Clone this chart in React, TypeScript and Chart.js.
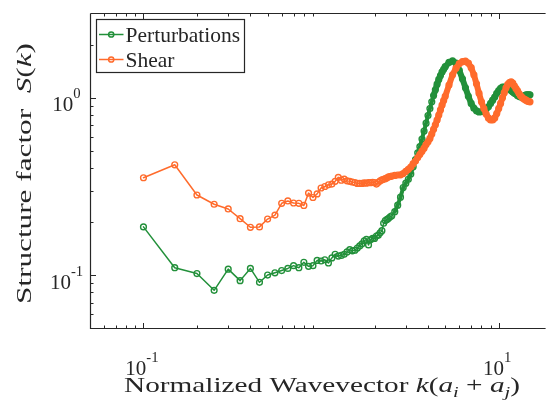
import React, { useEffect, useRef } from 'react';
import { Chart, registerables } from 'chart.js';

Chart.register(...registerables);

// ---------------- data ----------------
const SERIES_NAMES = ['Perturbations', 'Shear'];

const wavevector = [
  0.10, 0.15, 0.20, 0.25, 0.30, 0.35, 0.40, 0.45, 0.50, 0.55, 0.60, 0.65, 0.70, 0.75, 0.80, 0.85, 0.90, 0.95,
  1.00, 1.05, 1.10, 1.15, 1.20, 1.25, 1.30, 1.35, 1.40, 1.45, 1.50, 1.55, 1.60, 1.65, 1.70, 1.75, 1.80, 1.85,
  1.90, 1.95, 2.00, 2.05, 2.10, 2.15, 2.20, 2.25, 2.30, 2.35, 2.40, 2.45, 2.50,
  2.6, 2.7, 2.8, 2.9, 3.0, 3.1, 3.2, 3.3, 3.4, 3.5, 3.6, 3.7, 3.8, 3.9, 4.0, 4.1, 4.2, 4.3, 4.4, 4.5, 4.6, 4.7,
  4.8, 4.9, 5.0,
  5.25, 5.5, 5.75, 6.0, 6.25, 6.5, 6.75, 7.0, 7.25, 7.5, 7.75, 8.0, 8.25, 8.5, 8.75, 9.0, 9.25, 9.5, 9.75, 10.0,
  10.25, 10.5, 10.75, 11.0, 11.25, 11.5, 11.75, 12.0, 12.25, 12.5, 12.75, 13.0, 13.25, 13.5, 13.75, 14.0, 14.25,
  14.5, 14.75, 15.0,
];

const perturbations = [
  0.187, 0.110, 0.102, 0.082, 0.108, 0.093, 0.109, 0.091, 0.100, 0.103, 0.106, 0.109, 0.113, 0.110, 0.118, 0.112,
  0.113, 0.121, 0.120, 0.122, 0.117, 0.125, 0.131, 0.128, 0.129, 0.131, 0.135, 0.139, 0.137, 0.138, 0.142, 0.146,
  0.150, 0.156, 0.159, 0.148, 0.158, 0.161, 0.161, 0.166, 0.168, 0.173, 0.178, 0.196, 0.203, 0.206, 0.209, 0.213,
  0.216,
  0.228, 0.248, 0.275, 0.312, 0.330, 0.347, 0.372, 0.408, 0.448, 0.49, 0.53, 0.585, 0.65, 0.72, 0.795, 0.87, 0.95,
  1.03, 1.11, 1.195, 1.27, 1.335, 1.40, 1.45, 1.50,
  1.585, 1.615, 1.57, 1.43, 1.28, 1.14, 1.02, 0.93, 0.875, 0.845, 0.832, 0.835, 0.845, 0.865, 0.89, 0.93, 0.97,
  1.01, 1.06, 1.10, 1.13, 1.15, 1.15, 1.14, 1.13, 1.12, 1.10, 1.08, 1.06, 1.05, 1.03, 1.02, 1.01, 1.01, 1.02,
  1.03, 1.04, 1.04, 1.04, 1.04,
];

const shear = [
  0.354, 0.419, 0.283, 0.251, 0.236, 0.208, 0.186, 0.187, 0.207, 0.218, 0.254, 0.262, 0.255, 0.254, 0.247, 0.290,
  0.274, 0.287, 0.310, 0.316, 0.323, 0.326, 0.338, 0.356, 0.343, 0.348, 0.340, 0.338, 0.335, 0.333, 0.329, 0.329,
  0.329, 0.331, 0.330, 0.333, 0.332, 0.334, 0.333, 0.326, 0.334, 0.340, 0.344, 0.347, 0.350, 0.354, 0.358, 0.360,
  0.362,
  0.365, 0.367, 0.368, 0.374, 0.385, 0.395, 0.407, 0.425, 0.44, 0.46, 0.48, 0.50, 0.52, 0.545, 0.565, 0.59, 0.625,
  0.665, 0.705, 0.75, 0.80, 0.855, 0.91, 0.965, 1.02,
  1.18, 1.35, 1.47, 1.56, 1.60, 1.61, 1.57, 1.48, 1.35, 1.20, 1.06, 0.95, 0.87, 0.81, 0.77, 0.75, 0.75, 0.77,
  0.815, 0.87, 0.93, 1.00, 1.07, 1.14, 1.19, 1.22, 1.23, 1.21, 1.17, 1.13, 1.10, 1.06, 1.03, 1.01, 0.99, 0.98,
  0.97, 0.96, 0.955, 0.95,
];

const X_RANGE = [0.05, 17.9];
const Y_RANGE = [0.05, 3];
const X_MAJOR_TICKS = [0.1, 10];
const X_TICK_EXPONENTS = ['-1', '1'];
const Y_MAJOR_TICKS = [0.1, 1];
const Y_TICK_EXPONENTS = ['-1', '0'];

// ---------------- style ----------------
const GREEN = '#22903a';
const ORANGE = '#ff6b2c';
const AXIS = '#262626';
const TEXT = '#262626';
const SERIF = '"Liberation Serif", "Times New Roman", serif';

type Seg = { t: string; it?: boolean; sub?: boolean; sup?: boolean };

const X_TITLE: Seg[] = [
  { t: 'Normalized Wavevector ' },
  { t: 'k', it: true },
  { t: '(' },
  { t: 'a', it: true },
  { t: 'i', it: true, sub: true },
  { t: ' + ' },
  { t: 'a', it: true },
  { t: 'j', it: true, sub: true },
  { t: ')' },
];
const Y_TITLE: Seg[] = [
  { t: 'Structure factor  ' },
  { t: 'S', it: true },
  { t: '(' },
  { t: 'k', it: true },
  { t: ')' },
];

function drawRich(
  ctx: CanvasRenderingContext2D,
  segs: Seg[],
  x: number,
  y: number,
  size: number,
  align: 'left' | 'center' | 'right',
  stretchTo?: number,
  supShift = 0.62,
) {
  const fonts = segs.map(
    (s) => `${s.it ? 'italic ' : ''}${s.sub || s.sup ? size * 0.7 : size}px ${SERIF}`,
  );
  let w = 0;
  const ws = segs.map((s, i) => {
    ctx.font = fonts[i];
    const m = ctx.measureText(s.t).width;
    w += m;
    return m;
  });
  const sx = stretchTo ? stretchTo / w : 1;
  ctx.save();
  ctx.translate(x, y);
  ctx.scale(sx, 1);
  let cx = align === 'center' ? -w / 2 : align === 'right' ? -w : 0;
  ctx.textAlign = 'left';
  ctx.textBaseline = 'alphabetic';
  ctx.fillStyle = TEXT;
  segs.forEach((s, i) => {
    ctx.font = fonts[i];
    const dy = s.sub ? size * 0.22 : s.sup ? -size * supShift : 0;
    ctx.fillText(s.t, cx, dy);
    cx += ws[i];
  });
  ctx.restore();
}

function minorValues(lo: number, hi: number): number[] {
  const out: number[] = [];
  for (let d = -3; d <= 3; d++) {
    for (let m = 2; m <= 9; m++) {
      const v = m * Math.pow(10, d);
      if (v > lo * 1.0001 && v < hi * 0.9999) out.push(v);
    }
  }
  return out;
}

const framePlugin = {
  id: 'matlabFrame',
  afterDatasetsDraw(chart: any) {
    const { ctx, chartArea: a, scales } = chart;
    const xs = scales.x;
    const ys = scales.y;
    ctx.save();
    ctx.strokeStyle = AXIS;
    ctx.lineWidth = 1.2;
    const L = 90.5;
    const B = Math.round(a.bottom) + 0.5;
    const T = Math.round(a.top) + 0.5;
    const R = a.right;
    ctx.beginPath();
    ctx.moveTo(L, T);
    ctx.lineTo(R + 2, T);
    ctx.moveTo(L, T);
    ctx.lineTo(L, B);
    ctx.lineTo(R + 2, B);
    ctx.stroke();

    ctx.lineWidth = 1;
    const major = 5.5;
    const minor = 3;
    ctx.beginPath();
    const xm = minorValues(X_RANGE[0], X_RANGE[1]).filter((v) => !X_MAJOR_TICKS.includes(v));
    xm.forEach((v) => {
      const px = Math.round(xs.getPixelForValue(v)) + 0.5;
      ctx.moveTo(px, B);
      ctx.lineTo(px, B - minor);
      ctx.moveTo(px, T);
      ctx.lineTo(px, T + minor);
    });
    X_MAJOR_TICKS.forEach((v) => {
      const px = Math.round(xs.getPixelForValue(v)) + 0.5;
      ctx.moveTo(px, B);
      ctx.lineTo(px, B - major);
      ctx.moveTo(px, T);
      ctx.lineTo(px, T + major);
    });
    const ym = minorValues(Y_RANGE[0], Y_RANGE[1]).filter((v) => !Y_MAJOR_TICKS.includes(v));
    ym.forEach((v) => {
      const py = Math.round(ys.getPixelForValue(v)) + 0.5;
      ctx.moveTo(L, py);
      ctx.lineTo(L + minor, py);
    });
    Y_MAJOR_TICKS.forEach((v) => {
      const py = Math.round(ys.getPixelForValue(v)) + 0.5;
      ctx.moveTo(L, py);
      ctx.lineTo(L + major, py);
    });
    ctx.stroke();

    // tick labels
    X_MAJOR_TICKS.forEach((v, i) => {
      const px = xs.getPixelForValue(v);
      drawRich(ctx, [{ t: '10' }, { t: X_TICK_EXPONENTS[i], sup: true }], px - 1.5, 375, 21, 'center');
    });
    Y_MAJOR_TICKS.forEach((v, i) => {
      const py = ys.getPixelForValue(v);
      drawRich(ctx, [{ t: '10' }, { t: Y_TICK_EXPONENTS[i], sup: true }], 66.5, py + 13.5, 21, 'center');
    });

    // axis titles
    drawRich(ctx, X_TITLE, 322, 392, 22, 'center', 396);
    ctx.save();
    ctx.translate(31, 173.5);
    ctx.rotate(-Math.PI / 2);
    drawRich(ctx, Y_TITLE, 0, 0, 22, 'center', 261);
    ctx.restore();

    // legend
    const lx0 = 96.5, ly0 = 19.5, lx1 = 244.5, ly1 = 72.5;
    ctx.fillStyle = '#ffffff';
    ctx.fillRect(lx0, ly0, lx1 - lx0, ly1 - ly0);
    ctx.strokeStyle = AXIS;
    ctx.lineWidth = 1.2;
    ctx.strokeRect(lx0, ly0, lx1 - lx0, ly1 - ly0);
    const rows = [34.5, 59.5];
    chart.data.datasets.forEach((ds: any, i: number) => {
      const y = rows[i];
      ctx.strokeStyle = ds.borderColor;
      ctx.lineWidth = 1.5;
      ctx.beginPath();
      ctx.moveTo(99, y);
      ctx.lineTo(123.5, y);
      ctx.stroke();
      ctx.beginPath();
      ctx.arc(111.2, y, 2.6, 0, Math.PI * 2);
      ctx.stroke();
      ctx.fillStyle = TEXT;
      ctx.font = `21.5px ${SERIF}`;
      ctx.textAlign = 'left';
      ctx.textBaseline = 'alphabetic';
      ctx.fillText(ds.label, 125.5, y + 7);
    });
    ctx.restore();
  },
};

function series(values: number[]) {
  return wavevector.map((k, i) => ({ x: k, y: values[i] }));
}

// line thickness where markers pile up into a solid band
function greenWidth(k: number) {
  if (k >= 4.3) return 6;
  if (k >= 2.6) return 4;
  return 1.5;
}
function orangeWidth(k: number) {
  if (k >= 2.9) return 6;
  if (k >= 2.3) return 4.5;
  return 1.5;
}

export default function App() {
  const ref = useRef<HTMLCanvasElement>(null);
  useEffect(() => {
    if (!ref.current) return;
    const common = {
      showLine: true,
      fill: false,
      pointStyle: 'circle',
      pointRadius: 2.9,
      pointBorderWidth: 1.4,
      pointBackgroundColor: 'rgba(0,0,0,0)',
      borderWidth: 1.5,
      tension: 0,
      borderJoinStyle: 'round' as const,
      borderCapStyle: 'round' as const,
    };
    const chart = new Chart(ref.current, {
      type: 'scatter',
      data: {
        datasets: [
          {
            ...common,
            label: SERIES_NAMES[0],
            data: series(perturbations),
            borderColor: GREEN,
            pointBorderColor: GREEN,
            segment: { borderWidth: (c: any) => greenWidth(c.p0.parsed.x) },
            order: 1,
          },
          {
            ...common,
            label: SERIES_NAMES[1],
            data: series(shear),
            borderColor: ORANGE,
            pointBorderColor: ORANGE,
            segment: { borderWidth: (c: any) => orangeWidth(c.p0.parsed.x) },
            order: 0,
          },
        ],
      },
      options: {
        animation: false,
        responsive: false,
        devicePixelRatio: 1,
        layout: { padding: { left: 90, top: 13.3, right: 0, bottom: 71.6 } },
        scales: {
          x: { type: 'logarithmic', min: X_RANGE[0], max: X_RANGE[1], display: false },
          y: { type: 'logarithmic', min: Y_RANGE[0], max: Y_RANGE[1], display: false },
        },
        plugins: { legend: { display: false }, tooltip: { enabled: false } },
      },
      plugins: [framePlugin],
    } as any);
    return () => chart.destroy();
  }, []);
  return (
    <div style={{ position: 'absolute', left: 0, top: 0, width: 549, height: 400, background: '#fff' }}>
      <canvas ref={ref} width={549} height={400} style={{ display: 'block', width: 549, height: 400 }} />
    </div>
  );
}
